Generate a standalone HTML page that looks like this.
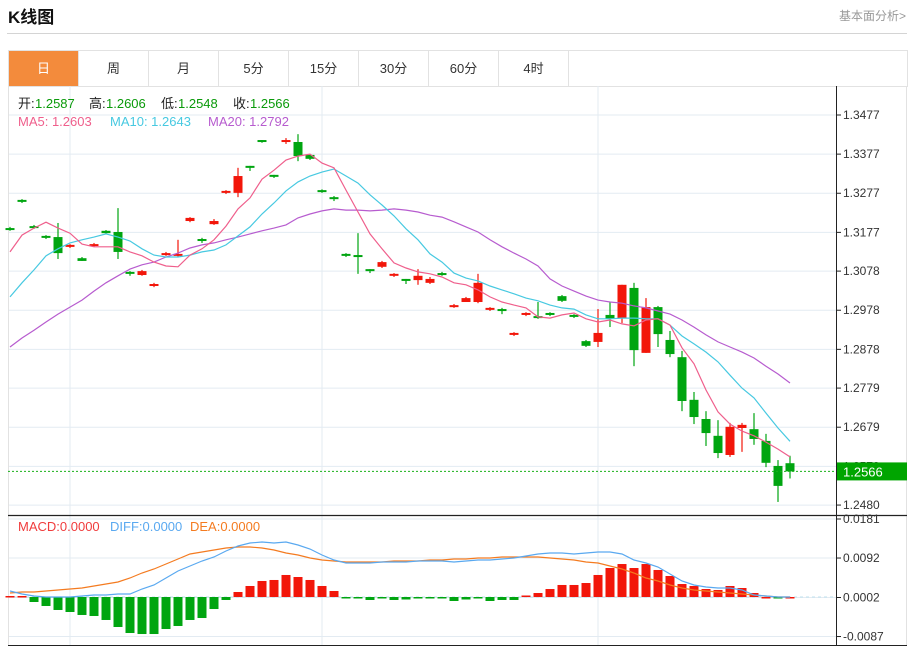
<!DOCTYPE html>
<html><head><meta charset="utf-8">
<style>
body{margin:0;background:#fff;font-family:"Liberation Sans","Noto Sans CJK SC",sans-serif;}
#wrap{position:relative;width:910px;height:646px;overflow:hidden;}
.title{position:absolute;left:8px;top:3px;font-size:17px;font-weight:bold;color:#111;}
.more{position:absolute;right:4px;top:7px;font-size:12px;color:#999;}
.hr{position:absolute;left:7px;top:33px;width:900px;height:1px;background:#d4d4d4;}
.tabs{position:absolute;left:8px;top:50px;width:898px;height:35px;border:1px solid #e2e2e2;border-bottom:1px solid #e2e2e2;}
.tab{position:absolute;top:0;height:35px;width:70px;border-right:1px solid #e2e2e2;text-align:center;line-height:35px;font-size:13px;color:#333;box-sizing:border-box;}
.tab.on{background:#f38b3c;color:#fff;}
svg text{font-family:"Liberation Sans","Noto Sans CJK SC",sans-serif;}
</style></head><body>
<div id="wrap">
<div class="title">K线图</div>
<div class="more">基本面分析&gt;</div>
<div class="hr"></div>
<div class="tabs">
<div class="tab on" style="left:0">日</div>
<div class="tab" style="left:70px">周</div>
<div class="tab" style="left:140px">月</div>
<div class="tab" style="left:210px">5分</div>
<div class="tab" style="left:280px">15分</div>
<div class="tab" style="left:350px">30分</div>
<div class="tab" style="left:420px">60分</div>
<div class="tab" style="left:490px">4时</div>
</div>
<svg id="chart" width="910" height="646" style="position:absolute;left:0;top:0"></svg>
</div>
<script>
const opens=[1.3188,1.3260,1.3193,1.3168,1.3165,1.3140,1.3111,1.3142,1.3181,1.3178,1.3076,1.3068,1.3040,1.3119,1.3119,1.3206,1.3160,1.3198,1.3278,1.3278,1.3347,1.3413,1.3324,1.3408,1.3408,1.3375,1.3285,1.3267,1.3122,1.3119,1.3083,1.3089,1.3066,1.3058,1.3055,1.3048,1.3073,1.2986,1.2999,1.2999,1.2981,1.2981,1.2915,1.2966,1.2963,1.2971,1.3014,1.2966,1.2899,1.2897,1.2966,1.2958,1.3035,1.2869,1.2986,1.2902,1.2858,1.2749,1.2700,1.2657,1.2608,1.2677,1.2674,1.2644,1.2580,1.2587];
const highs=[1.3191,1.3262,1.3196,1.3170,1.3201,1.3147,1.3114,1.3150,1.3183,1.3239,1.3078,1.3081,1.3048,1.3127,1.3158,1.3216,1.3163,1.3211,1.3285,1.3342,1.3347,1.3413,1.3324,1.3418,1.3428,1.3377,1.3287,1.3270,1.3124,1.3175,1.3083,1.3104,1.3073,1.3058,1.3083,1.3063,1.3076,1.2994,1.3012,1.3071,1.2986,1.2984,1.2922,1.2973,1.2999,1.2973,1.3017,1.2968,1.2902,1.2981,1.2999,1.3043,1.3048,1.3009,1.2989,1.2925,1.2874,1.2769,1.2720,1.2697,1.2690,1.2690,1.2715,1.2662,1.2595,1.2606];
const lows=[1.3181,1.3252,1.3186,1.3160,1.3109,1.3137,1.3104,1.3140,1.3173,1.3109,1.3066,1.3066,1.3037,1.3117,1.3114,1.3203,1.3150,1.3196,1.3275,1.3267,1.3334,1.3406,1.3316,1.3403,1.3359,1.3362,1.3278,1.3257,1.3114,1.3071,1.3073,1.3086,1.3063,1.3045,1.3043,1.3045,1.3066,1.2984,1.2999,1.2996,1.2976,1.2968,1.2912,1.2963,1.2956,1.2963,1.2999,1.2958,1.2884,1.2884,1.2935,1.2945,1.2835,1.2869,1.2884,1.2858,1.2720,1.2687,1.2631,1.2600,1.2603,1.2616,1.2634,1.2577,1.2488,1.2548];
const closes=[1.3183,1.3255,1.3188,1.3163,1.3124,1.3145,1.3104,1.3147,1.3175,1.3127,1.3071,1.3078,1.3045,1.3124,1.3122,1.3214,1.3155,1.3206,1.3283,1.3321,1.3342,1.3408,1.3319,1.3413,1.3372,1.3365,1.3280,1.3262,1.3117,1.3117,1.3078,1.3101,1.3071,1.3053,1.3066,1.3058,1.3068,1.2991,1.3009,1.3048,1.2984,1.2976,1.2920,1.2971,1.2958,1.2966,1.3002,1.2961,1.2887,1.2920,1.2956,1.3043,1.2876,1.2986,1.2917,1.2866,1.2746,1.2705,1.2664,1.2613,1.2680,1.2685,1.2649,1.2588,1.2529,1.2566];
const ma5=[1.3127,1.3170,1.3188,1.3203,1.3188,1.3175,1.3147,1.3140,1.3140,1.3140,1.3127,1.3117,1.3101,1.3091,1.3089,1.3119,1.3135,1.3158,1.3193,1.3237,1.3265,1.3313,1.3336,1.3362,1.3372,1.3377,1.3354,1.3342,1.3285,1.3229,1.3173,1.3135,1.3099,1.3086,1.3076,1.3071,1.3063,1.3048,1.3043,1.3030,1.3012,1.2999,1.2991,1.2984,1.2961,1.2958,1.2966,1.2971,1.2956,1.2948,1.2953,1.2943,1.2938,1.2953,1.2956,1.2940,1.2882,1.2841,1.2774,1.2718,1.2687,1.2669,1.2657,1.2641,1.2623,1.2603];
const ma10=[1.3012,1.3048,1.3081,1.3117,1.3135,1.3150,1.3158,1.3165,1.3173,1.3165,1.3155,1.3135,1.3119,1.3114,1.3114,1.3119,1.3127,1.3132,1.3145,1.3168,1.3191,1.3224,1.3252,1.3283,1.3306,1.3321,1.3331,1.3339,1.3321,1.3303,1.3273,1.3247,1.3219,1.3186,1.3158,1.3122,1.3101,1.3073,1.3060,1.3053,1.3040,1.3030,1.3020,1.3009,1.3002,1.2991,1.2984,1.2981,1.2966,1.2956,1.2956,1.2958,1.2958,1.2956,1.2956,1.2940,1.2912,1.2892,1.2871,1.2846,1.2812,1.2779,1.2754,1.2715,1.2677,1.2643];
const ma20=[1.2884,1.2907,1.2927,1.2948,1.2968,1.2986,1.3004,1.3027,1.3048,1.3066,1.3083,1.3094,1.3101,1.3114,1.3124,1.3137,1.3145,1.3150,1.3158,1.3165,1.3173,1.3181,1.3188,1.3196,1.3214,1.3224,1.3232,1.3237,1.3234,1.3234,1.3232,1.3234,1.3237,1.3234,1.3229,1.3221,1.3216,1.3204,1.3191,1.3178,1.3158,1.3140,1.3124,1.3109,1.3091,1.3058,1.3040,1.3027,1.3014,1.3004,1.2999,1.2996,1.2989,1.2984,1.2976,1.2968,1.2953,1.2935,1.2915,1.2897,1.2884,1.2871,1.2856,1.2835,1.2815,1.2792];
const diffs=[.00137,.00068,.00023,0,0,0,.00023,.00046,.00046,.00068,.00068,.00182,.00274,.00433,.00593,.00707,.00821,.00912,.01049,.01163,.01231,.01254,.01231,.01254,.01186,.01094,.00958,.00844,.00775,.00775,.00775,.00798,.00798,.00798,.00821,.00821,.00821,.00798,.00821,.00844,.00844,.00866,.00889,.00935,.0098,.01003,.01003,.0098,.01003,.01026,.01026,.0098,.00844,.00775,.00684,.00524,.00365,.00274,.00228,.00205,.00205,.0016,.00046,.00023,0,0];
const deas=[.00091,.00114,.00114,.00137,.0016,.00182,.00205,.00251,.00296,.00342,.00433,.00547,.00638,.00752,.00866,.0098,.01026,.01072,.01117,.0114,.0114,.01117,.01072,.01003,.00958,.00889,.00844,.00821,.00798,.00798,.00798,.00798,.00821,.00821,.00821,.00844,.00844,.00866,.00866,.00889,.00889,.00912,.00912,.00912,.00912,.00889,.00866,.00844,.00798,.00775,.00707,.00638,.00547,.00433,.00365,.00274,.00205,.0016,.00137,.00114,.00091,.00068,.00046,.00023,0,0];
const macdHist=[.00023,.00023,-.00114,-.00205,-.00296,-.00342,-.0041,-.00433,-.00524,-.00684,-.00821,-.00844,-.00844,-.0073,-.00661,-.00524,-.00479,-.00274,-.00068,.00114,.00251,.00365,.00388,.00502,.00456,.00388,.00251,.00137,-.00034,-.00034,-.00068,-.00034,-.00068,-.00057,-.00034,-.00034,-.00034,-.00091,-.00057,-.00034,-.00091,-.00068,-.00068,.00034,.00091,.00182,.00274,.00274,.00319,.00502,.00661,.00752,.00661,.00752,.00616,.00479,.00296,.00251,.00182,.0016,.00251,.00205,.00091,0,-.00023,0];
const priceTicks=[1.3477,1.3377,1.3277,1.3177,1.3078,1.2978,1.2878,1.2779,1.2679,1.2579,1.2480];
const macdTicks=[0.0181,0.0092,0.0002,-0.0087];
const lastPrice=1.2566;

const NS='http://www.w3.org/2000/svg';
const svg=document.getElementById('chart');
function mk(tag,attrs,parent){const e=document.createElementNS(NS,tag);for(const k in attrs)e.setAttribute(k,attrs[k]);(parent||svg).appendChild(e);return e;}
const RED='#f2160a',GREEN='#00a510';
function xAt(i){return 10+12*i;}
function yP(p){return 115+(1.3477-p)/0.0002556;}
function yM(v){return 597-(v)/0.000228;}

const grid=mk('g',{});


priceTicks.forEach(t=>{mk('line',{x1:8,x2:836,y1:yP(t),y2:yP(t),stroke:'#e3ebf2','stroke-width':1},grid);});
macdTicks.forEach(t=>{mk('line',{x1:8,x2:836,y1:yM(t-0.0002)+0.5,y2:yM(t-0.0002)+0.5,stroke:'#e3ebf2','stroke-width':1},grid);});
[70,322,598].forEach(x=>{mk('line',{x1:x,x2:x,y1:86,y2:645,stroke:'#e3ebf2','stroke-width':1},grid);});
mk('line',{x1:8.5,x2:8.5,y1:86,y2:645,stroke:'#e2e2e2'},grid);
mk('line',{x1:906.5,x2:906.5,y1:86,y2:645,stroke:'#e2e2e2'},grid);

mk('line',{x1:836.5,x2:836.5,y1:86,y2:646,stroke:'#222','stroke-width':1});
mk('line',{x1:8,x2:907,y1:515.5,y2:515.5,stroke:'#222','stroke-width':1.2});
mk('line',{x1:8,x2:907,y1:645.5,y2:645.5,stroke:'#222','stroke-width':1});

priceTicks.forEach(t=>{
  const y=yP(t);
  mk('line',{x1:836,x2:841,y1:y,y2:y,stroke:'#222'});
  const tx=mk('text',{x:843,y:y+4,'font-size':12,fill:'#333'});
  tx.textContent=t.toFixed(4);
  
  
});
macdTicks.forEach(t=>{
  const y=yM(t-0.0002)+0.5;
  mk('line',{x1:836,x2:841,y1:y,y2:y,stroke:'#222'});
  const tx=mk('text',{x:843,y:y+4,'font-size':12,fill:'#333'});
  tx.textContent=t.toFixed(4);
  
  
});

closes.forEach((c,i)=>{
  const o=opens[i],up=c>=o,col=up?RED:GREEN,x=xAt(i);
  const g=mk('g',{});
  
  
  mk('line',{x1:x,x2:x,y1:yP(highs[i]),y2:yP(lows[i]),stroke:col,'stroke-width':1.2},g);
  const top=Math.min(yP(o),yP(c)),h=Math.max(2,Math.abs(yP(o)-yP(c)));
  mk('rect',{x:x-4.5,y:top,width:9,height:h,fill:col},g);
});

function line(arr,yf,col,name){
  const p=mk('polyline',{points:arr.map((v,i)=>xAt(i)+','+yf(v).toFixed(1)).join(' '),fill:'none',stroke:col,'stroke-width':1.2});
  
  
}
line(ma20,yP,'#b75ccf','ma20-line');
line(ma10,yP,'#47c9e1','ma10-line');
line(ma5,yP,'#ef5f8c','ma5-line');

const lp=yP(lastPrice);
const dl=mk('line',{x1:8,x2:836,y1:lp,y2:lp,stroke:'#19b019','stroke-dasharray':'2,2'});


const lb=mk('rect',{x:837,y:lp-9,width:70,height:18,fill:'#00a500'});


const lt=mk('text',{x:843,y:lp+5,'font-size':13,fill:'#fff'});
lt.textContent=lastPrice.toFixed(4);

mk('line',{x1:8,x2:836,y1:597,y2:597,stroke:'#bfe0ee','stroke-dasharray':'3,3'});
macdHist.forEach((v,i)=>{
  const x=xAt(i),y0=yM(0),y1=yM(v);
  const r=mk('rect',{x:x-4.5,y:Math.min(y0,y1),width:9,height:Math.max(1.5,Math.abs(y1-y0)),fill:v>=0?RED:GREEN});
  
  
});
line(deas,yM,'#f47b20','dea-line');
line(diffs,yM,'#5aa9f0','diff-line');

function legend(y,parts,name){
  const g=mk('g',{});
  
  
  parts.forEach(([x,s,c])=>{const t=mk('text',{x:x,y:y,'font-size':13,fill:c},g);t.textContent=s;});
}
legend(108,[[18,'开:','#222'],[35,'1.2587','#0a9a0a'],[89,'高:','#222'],[106,'1.2606','#0a9a0a'],[161,'低:','#222'],[178,'1.2548','#0a9a0a'],[233,'收:','#222'],[250,'1.2566','#0a9a0a']],'ohlc-legend');
legend(126,[[18,'MA5: 1.2603','#ef5f8c'],[110,'MA10: 1.2643','#47c9e1'],[208,'MA20: 1.2792','#b75ccf']],'ma-legend');
legend(531,[[18,'MACD:0.0000','#f03c3c'],[110,'DIFF:0.0000','#5aa9f0'],[190,'DEA:0.0000','#f47b20']],'macd-legend');
</script>
</body></html>
